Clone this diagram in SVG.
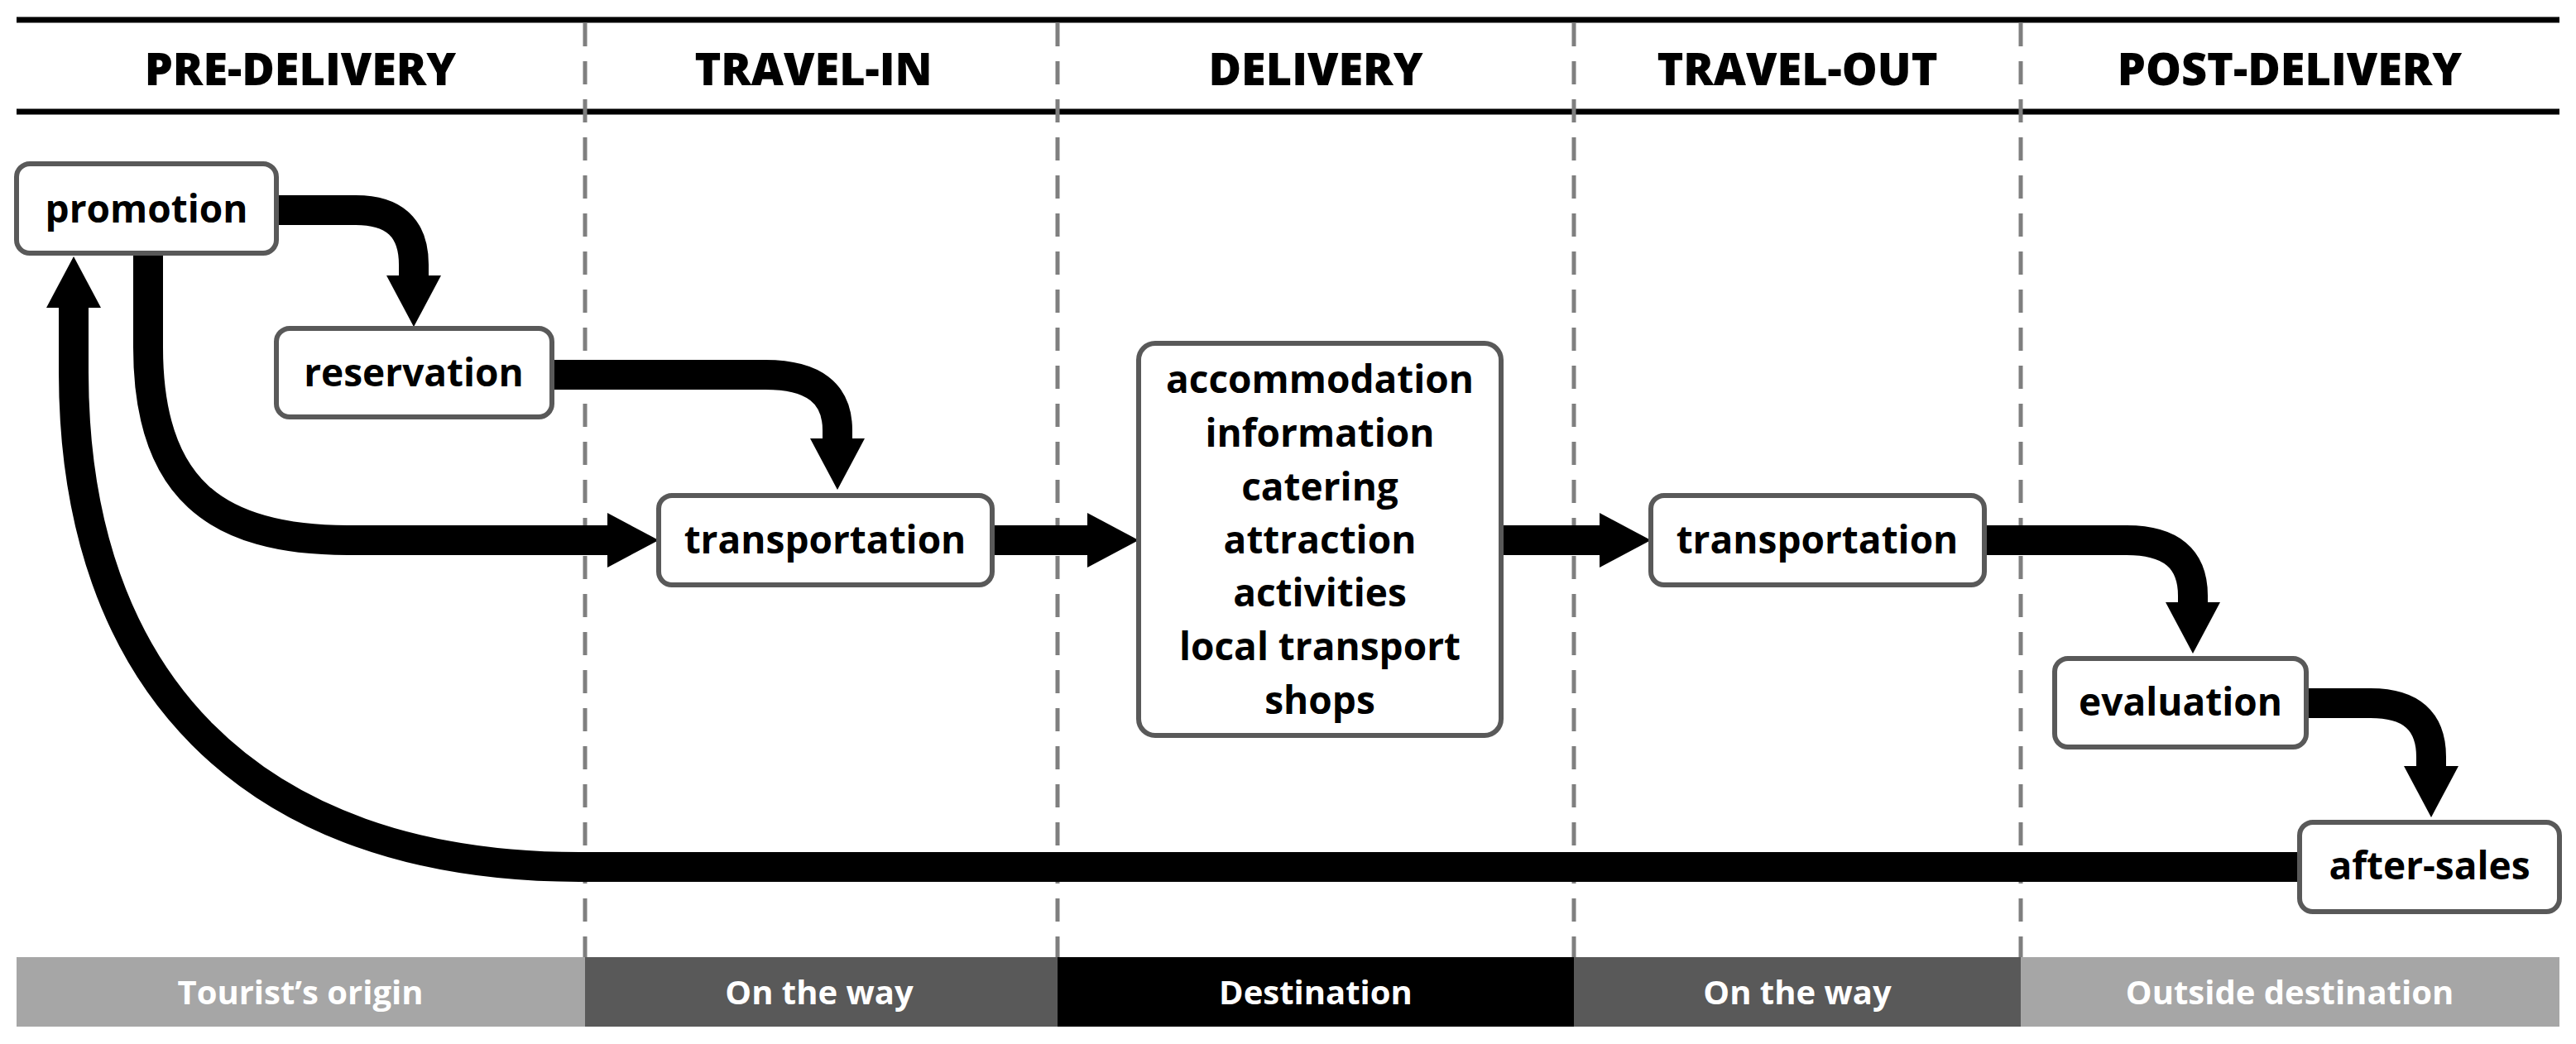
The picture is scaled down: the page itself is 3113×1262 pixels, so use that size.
<svg xmlns="http://www.w3.org/2000/svg" width="3113" height="1262" viewBox="0 0 3113 1262">
<defs>
<style>
.hd{font-family:"Open Sans","Liberation Sans",sans-serif;font-weight:800;font-size:54px;text-anchor:middle;fill:#000}
.nt{font-family:"Open Sans","Liberation Sans",sans-serif;font-weight:bold;font-size:46px;text-anchor:middle;fill:#000}
.bt{font-family:"Open Sans","Liberation Sans",sans-serif;font-weight:bold;font-size:40px;text-anchor:middle;fill:#fff}
.box{fill:#fff;stroke:#595959;stroke-width:6}
.sep{stroke:#7f7f7f;stroke-width:5;stroke-dasharray:28 18}
.c{fill:none;stroke:#000;stroke-width:36;marker-end:url(#ah)}
</style>
<marker id="ah" markerUnits="userSpaceOnUse" markerWidth="70" markerHeight="80" viewBox="0 -40 70 80" refX="0" refY="0" orient="auto">
<path d="M0,-33 L62,0 L0,33 z" fill="#000"/>
</marker>
</defs>
<rect width="3113" height="1262" fill="#fff"/>
<g id="frame">
<line x1="20" y1="24" x2="3093" y2="24" stroke="#000" stroke-width="7"/>
<line x1="20" y1="135" x2="3093" y2="135" stroke="#000" stroke-width="7"/>
<line class="sep" x1="707" y1="28" x2="707" y2="1157"/>
<line class="sep" x1="1278" y1="28" x2="1278" y2="1157"/>
<line class="sep" x1="1902" y1="28" x2="1902" y2="1157"/>
<line class="sep" x1="2442" y1="28" x2="2442" y2="1157"/>
<text class="hd" x="363" y="103">PRE-DELIVERY</text>
<text class="hd" x="983" y="103">TRAVEL-IN</text>
<text class="hd" x="1590" y="103">DELIVERY</text>
<text class="hd" x="2172" y="103">TRAVEL-OUT</text>
<text class="hd" x="2767" y="103">POST-DELIVERY</text>
<rect x="20" y="1157" width="687" height="84" fill="#a6a6a6"/>
<rect x="707" y="1157" width="571" height="84" fill="#595959"/>
<rect x="1278" y="1157" width="624" height="84" fill="#000"/>
<rect x="1902" y="1157" width="540" height="84" fill="#595959"/>
<rect x="2442" y="1157" width="651" height="84" fill="#a6a6a6"/>
<text class="bt" x="363" y="1214">Tourist’s origin</text>
<text class="bt" x="990" y="1214">On the way</text>
<text class="bt" x="1590" y="1214">Destination</text>
<text class="bt" x="2172" y="1214">On the way</text>
<text class="bt" x="2767" y="1214">Outside destination</text>
</g>
<g id="connectors">
<path class="c" d="M334,254 H430 Q500,254 500,320 V333"/>
<path class="c" d="M667,453 H925 Q1012,453 1012,520 V530"/>
<path class="c" d="M179,306 V420 C179,590 260,653 420,653 H734"/>
<path class="c" d="M1199,653 H1314"/>
<path class="c" d="M1814,653 H1933"/>
<path class="c" d="M2398,653 H2570 Q2650,653 2650,720 V728"/>
<path class="c" d="M2787,850 H2865 Q2938,850 2938,915 V926"/>
<path class="c" d="M2779,1048 H700 C300,1048 89,820 89,450 V372"/>
</g>
<g id="promotion"><rect class="box" x="20" y="198" width="314" height="108" rx="16"/><text class="nt" x="177" y="269">promotion</text></g>
<g id="reservation"><rect class="box" x="334" y="397" width="333" height="107" rx="16"/><text class="nt" x="500" y="467">reservation</text></g>
<g id="transportation-in"><rect class="box" x="796" y="599" width="403" height="108" rx="16"/><text class="nt" x="997" y="669">transportation</text></g>
<g id="delivery"><rect class="box" x="1376" y="415" width="438" height="474" rx="20"/>
<text class="nt" x="1595" y="475">accommodation</text>
<text class="nt" x="1595" y="540">information</text>
<text class="nt" x="1595" y="605">catering</text>
<text class="nt" x="1595" y="669">attraction</text>
<text class="nt" x="1595" y="733">activities</text>
<text class="nt" x="1595" y="798">local transport</text>
<text class="nt" x="1595" y="863">shops</text>
</g>
<g id="transportation-out"><rect class="box" x="1995" y="599" width="403" height="108" rx="16"/><text class="nt" x="2196" y="669">transportation</text></g>
<g id="evaluation"><rect class="box" x="2483" y="796" width="304" height="107" rx="16"/><text class="nt" x="2635" y="865">evaluation</text></g>
<g id="after-sales"><rect class="box" x="2779" y="994" width="314" height="108" rx="16"/><text class="nt" x="2936" y="1063">after-sales</text></g>
</svg>
